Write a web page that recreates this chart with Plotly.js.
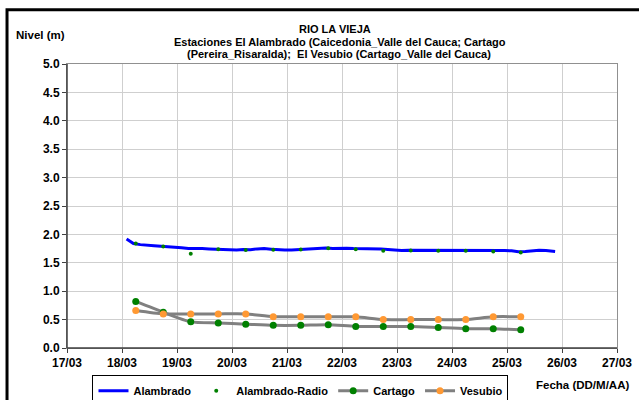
<!DOCTYPE html>
<html>
<head>
<meta charset="utf-8">
<script src="https://cdn.plot.ly/plotly-3.0.1.min.js"></script>
<style>html,body{margin:0;padding:0;background:#fff;}#chart{width:639px;height:400px;}</style>
</head>
<body>
<div id="chart"></div>
<script>
// Alambrado (continuous record)
const alambradoX = [
 '2011-03-18 02:00','2011-03-18 03:00','2011-03-18 05:00','2011-03-18 08:00','2011-03-18 11:00','2011-03-18 14:00','2011-03-18 17:00','2011-03-18 20:00','2011-03-18 23:00',
 '2011-03-19 02:00','2011-03-19 05:00','2011-03-19 08:00','2011-03-19 11:00','2011-03-19 14:00','2011-03-19 17:00','2011-03-19 20:00','2011-03-19 23:00',
 '2011-03-20 02:00','2011-03-20 05:00','2011-03-20 08:00','2011-03-20 11:00','2011-03-20 14:00','2011-03-20 17:00','2011-03-20 20:00','2011-03-20 23:00',
 '2011-03-21 02:00','2011-03-21 05:00','2011-03-21 08:00','2011-03-21 11:00','2011-03-21 14:00','2011-03-21 17:00','2011-03-21 20:00','2011-03-21 23:00',
 '2011-03-22 02:00','2011-03-22 05:00','2011-03-22 08:00','2011-03-22 11:00','2011-03-22 14:00','2011-03-22 17:00','2011-03-22 20:00','2011-03-22 23:00',
 '2011-03-23 02:00','2011-03-23 05:00','2011-03-23 08:00','2011-03-23 11:00','2011-03-23 14:00','2011-03-23 17:00','2011-03-23 20:00','2011-03-23 23:00',
 '2011-03-24 02:00','2011-03-24 05:00','2011-03-24 08:00','2011-03-24 11:00','2011-03-24 14:00','2011-03-24 17:00','2011-03-24 20:00','2011-03-24 23:00',
 '2011-03-25 02:00','2011-03-25 05:00','2011-03-25 08:00','2011-03-25 11:00','2011-03-25 14:00','2011-03-25 17:00','2011-03-25 21:00'
];
const alambradoY = [
 1.92,1.89,1.84,1.82,1.815,1.80,1.79,1.785,1.775,
 1.765,1.75,1.755,1.75,1.745,1.74,1.735,1.725,
 1.725,1.735,1.73,1.745,1.75,1.74,1.73,1.725,
 1.725,1.73,1.735,1.745,1.75,1.76,1.75,1.755,
 1.755,1.75,1.75,1.755,1.75,1.745,1.735,1.72,
 1.715,1.72,1.72,1.725,1.72,1.715,1.72,1.725,
 1.72,1.715,1.72,1.725,1.72,1.72,1.715,1.715,
 1.71,1.695,1.70,1.715,1.72,1.715,1.70
];
// Twice-daily readings (06:00 and 18:00)
const readingsX = [
 '2011-03-18 06:00','2011-03-18 18:00','2011-03-19 06:00','2011-03-19 18:00','2011-03-20 06:00','2011-03-20 18:00',
 '2011-03-21 06:00','2011-03-21 18:00','2011-03-22 06:00','2011-03-22 18:00','2011-03-23 06:00','2011-03-23 18:00',
 '2011-03-24 06:00','2011-03-24 18:00','2011-03-25 06:00'
];
const radioY   = [1.84,1.785,1.66,1.74,1.725,1.73,1.735,1.755,1.74,1.71,1.715,1.71,1.71,1.70,1.68];
const cartagoY = [0.82,0.63,0.46,0.44,0.42,0.40,0.40,0.41,0.38,0.38,0.38,0.36,0.34,0.34,0.32];
const vesubioY = [0.66,0.60,0.60,0.60,0.60,0.55,0.55,0.55,0.55,0.50,0.50,0.50,0.50,0.55,0.55];

const seriesNames = ['Alambrado','Alambrado-Radio','Cartago','Vesubio'];
const xTickVals = ['2011-03-17','2011-03-18','2011-03-19','2011-03-20','2011-03-21','2011-03-22','2011-03-23','2011-03-24','2011-03-25','2011-03-26','2011-03-27'];
const xTickText = ['17/03','18/03','19/03','20/03','21/03','22/03','23/03','24/03','25/03','26/03','27/03'];
const yTickVals = [0,0.5,1,1.5,2,2.5,3,3.5,4,4.5,5];
const yTickText = ['0.0','0.5','1.0','1.5','2.0','2.5','3.0','3.5','4.0','4.5','5.0'];
const titleLines = ['RIO LA VIEJA','Estaciones El Alambrado (Caicedonia_Valle del Cauca; Cartago','(Pereira_Risaralda);  El Vesubio (Cartago_Valle del Cauca)'];

const F = 'Liberation Sans, Arial, sans-serif';
const b = s => '<b>' + s + '</b>';

const traces = [
 {x: alambradoX, y: alambradoY, name: b(seriesNames[0]), mode: 'lines', type: 'scatter',
  line: {color: '#0000ff', width: 3}},
 {x: readingsX, y: radioY, name: b(seriesNames[1]), mode: 'markers', type: 'scatter',
  marker: {color: '#008000', size: 4}},
 {x: readingsX, y: cartagoY, name: b(seriesNames[2]), mode: 'lines+markers', type: 'scatter',
  line: {color: '#808080', width: 3, shape: 'spline', smoothing: 0.6},
  marker: {color: '#008000', size: 7}},
 {x: readingsX, y: vesubioY, name: b(seriesNames[3]), mode: 'lines+markers', type: 'scatter',
  line: {color: '#808080', width: 3, shape: 'spline', smoothing: 0.6},
  marker: {color: '#ff9933', size: 7}}
];

const pxX = px => (px - 66.5) / 550.2;
const pxY = py => (347.7 - py) / 284;

const layout = {
 width: 639, height: 400,
 margin: {l: 66.5, r: 22.3, t: 63.7, b: 52.3, autoexpand: false},
 paper_bgcolor: '#ffffff', plot_bgcolor: '#ffffff',
 showlegend: true,
 font: {family: F, size: 11, color: '#000'},
 xaxis: {type: 'date', range: ['2011-03-17','2011-03-27'],
  tickvals: xTickVals, ticktext: xTickText.map(b),
  showgrid: true, gridcolor: '#cfcfcf', gridwidth: 1,
  showline: true, linecolor: '#909090', linewidth: 1, mirror: true,
  ticks: 'outside', ticklen: 4, tickcolor: '#404040',
  tickfont: {family: F, size: 12, color: '#000'}, zeroline: false},
 yaxis: {range: [0, 5], tickvals: yTickVals, ticktext: yTickText.map(b),
  showgrid: true, gridcolor: '#cfcfcf', gridwidth: 1,
  showline: true, linecolor: '#909090', linewidth: 1, mirror: true,
  ticks: 'outside', ticklen: 4, tickcolor: '#404040',
  tickfont: {family: F, size: 12, color: '#000'}, zeroline: false},
 legend: {orientation: 'h', x: pxX(92), y: pxY(375), xanchor: 'left', yanchor: 'top',
  bordercolor: '#000', borderwidth: 1, bgcolor: '#fff',
  font: {family: F, size: 11, color: '#000'},
  itemwidth: 30, tracegroupgap: 0},
 shapes: [
  {type: 'rect', xref: 'paper', yref: 'paper', x0: pxX(6.5), x1: pxX(700), y0: pxY(460), y1: pxY(9.5),
   line: {color: '#000', width: 3}, fillcolor: 'rgba(0,0,0,0)', layer: 'below'},
  {type: 'line', xref: 'paper', yref: 'paper', x0: 0, x1: 0, y0: 0, y1: 1, line: {color: '#404040', width: 1.5}},
  {type: 'line', xref: 'paper', yref: 'paper', x0: 0, x1: 1, y0: 0, y1: 0, line: {color: '#404040', width: 1.5}}
 ],
 annotations: [
  {text: b(titleLines[0]), xref: 'paper', yref: 'paper', x: pxX(335), y: pxY(29), showarrow: false,
   xanchor: 'center', yanchor: 'middle', borderpad: 0, font: {family: F, size: 11}},
  {text: b(titleLines[1]), xref: 'paper', yref: 'paper', x: pxX(340), y: pxY(41.3), showarrow: false,
   xanchor: 'center', yanchor: 'middle', borderpad: 0, font: {family: F, size: 11}},
  {text: b(titleLines[2]), xref: 'paper', yref: 'paper', x: pxX(339), y: pxY(53.6), showarrow: false,
   xanchor: 'center', yanchor: 'middle', borderpad: 0, font: {family: F, size: 11}},
  {text: b('Nivel (m)'), xref: 'paper', yref: 'paper', x: pxX(40), y: pxY(35), showarrow: false,
   xanchor: 'center', yanchor: 'middle', font: {family: F, size: 11.5}},
  {text: b('Fecha (DD/M/AA)'), xref: 'paper', yref: 'paper', x: pxX(582), y: pxY(385), showarrow: false,
   xanchor: 'center', yanchor: 'middle', font: {family: F, size: 11.5}}
 ]
};

Plotly.newPlot('chart', traces, layout, {displayModeBar: false, staticPlot: true});
</script>
</body>
</html>
